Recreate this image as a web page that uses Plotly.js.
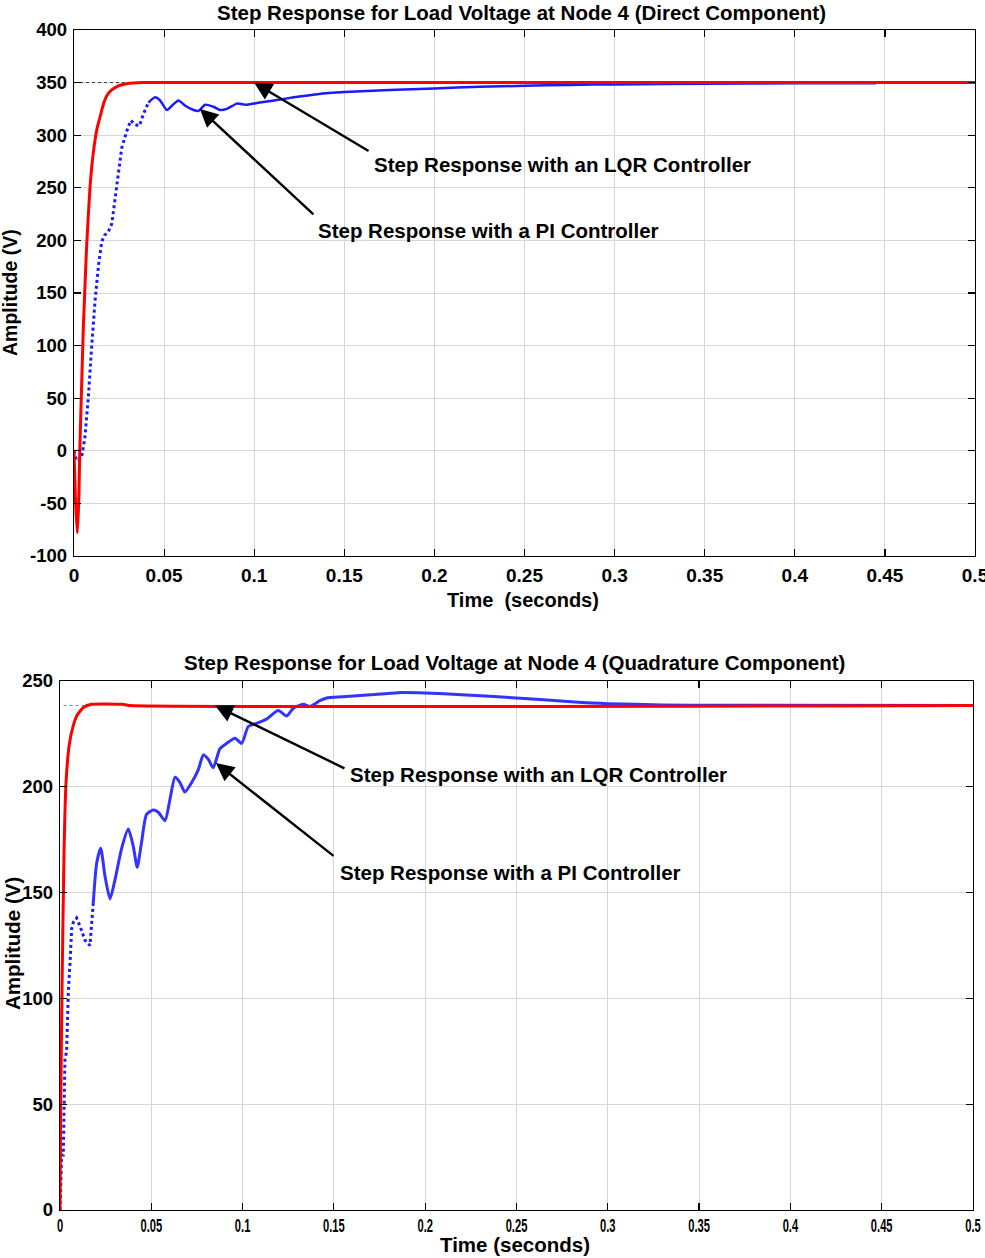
<!DOCTYPE html>
<html>
<head>
<meta charset="utf-8">
<script src="https://cdn.plot.ly/plotly-3.0.1.min.js"></script>
<style>
  html, body { margin: 0; padding: 0; background: #fff; }
  #chart { width: 985px; height: 1258px; }
</style>
</head>
<body>
<div id="chart"></div>
<script>
// ---- Direct component: PI controller response (time s, voltage V)
const tDirPI = [0, 0.0012, 0.0024, 0.0043, 0.006, 0.008, 0.0098, 0.0117, 0.0135, 0.0154, 0.017, 0.019, 0.021,
  0.0228, 0.0246, 0.0265, 0.0293, 0.0315, 0.034, 0.0363, 0.0385, 0.0413, 0.045, 0.0478, 0.0515, 0.0543,
  0.058, 0.0617, 0.0663, 0.069, 0.0728, 0.0774, 0.0811, 0.0848, 0.0904, 0.096, 0.103, 0.111, 0.122,
  0.135, 0.15, 0.175, 0.2, 0.225, 0.25, 0.275, 0.3, 0.35, 0.4, 0.445];
const vDirPI = [0, -8, -10, -5, 12, 52, 99, 143, 175, 199, 205, 208, 216,
  238, 263, 288, 304, 314, 310, 309, 320, 331, 336, 333, 324, 328,
  333, 328, 324, 323, 329, 327, 324, 325, 330, 329, 331, 333, 336,
  339, 341, 343, 344.5, 346, 347, 347.8, 348.3, 349, 349.3, 349.5];

// ---- Direct component: LQR controller response
const tDirLQR = [0, 0.0009, 0.00185, 0.0027, 0.0032, 0.0042, 0.0052, 0.007, 0.0089, 0.0107, 0.0126,
  0.0144, 0.0163, 0.0182, 0.0209, 0.0246, 0.0293, 0.0385, 0.5];
const vDirLQR = [0, -50, -78, -45, 0, 60, 118, 194, 251, 283, 305,
  317, 329.5, 337.5, 343, 347, 349, 350, 350];
const dirSteady = 350;

// ---- Quadrature component: PI controller response
const tQuadPI = [0, 0.0005, 0.0009, 0.0018, 0.0027, 0.0036, 0.0046, 0.0055, 0.0064, 0.0073, 0.0091, 0.011,
  0.0137, 0.0164, 0.0182, 0.0201, 0.0223, 0.0246, 0.0274, 0.0301, 0.0338, 0.0374, 0.0401, 0.0423,
  0.0447, 0.0474, 0.0511, 0.0538, 0.0575, 0.0602, 0.063, 0.0657, 0.0684, 0.0721, 0.0757, 0.0785,
  0.0812, 0.0839, 0.0876, 0.0912, 0.0958, 0.0995, 0.1031, 0.1077, 0.1131, 0.1195, 0.1241, 0.1277,
  0.1332, 0.1369, 0.1423, 0.146, 0.155, 0.17, 0.185, 0.2, 0.22, 0.25, 0.28, 0.3, 0.33, 0.36, 0.5];
const vQuadPI = [0, 12, 26, 26, 71, 75, 104, 117, 133, 136, 138, 134,
  127.5, 125, 145, 164, 171, 158, 147, 156, 171, 180, 172, 162,
  174, 187, 189, 188, 184, 194, 204.5, 202, 197.5, 202, 208, 215,
  213, 209, 218, 220.5, 223, 220.5, 228.5, 230, 232, 236, 233.5, 237,
  239, 238, 240.7, 242, 242.5, 243.5, 244.5, 244.3, 243.5, 242, 240.2, 239.3, 238.7, 238.5, 238.4];

// ---- Quadrature component: LQR controller response
const tQuadLQR = [0, 0.0004, 0.0011, 0.0022, 0.0033, 0.0051, 0.0073, 0.0095, 0.0128, 0.0173, 0.034, 0.038, 0.5];
const vQuadLQR = [0, 50, 104, 169, 202, 220, 229, 234, 237.5, 239, 239, 238.4, 238.4];
const quadSteady = 238.4;

// ---- Tick labels
const xTicks = [0, 0.05, 0.1, 0.15, 0.2, 0.25, 0.3, 0.35, 0.4, 0.45, 0.5];
const xTickText = ['0', '0.05', '0.1', '0.15', '0.2', '0.25', '0.3', '0.35', '0.4', '0.45', '0.5'];
const yDirTicks = [-100, -50, 0, 50, 100, 150, 200, 250, 300, 350, 400];
const yDirTickText = ['-100', '-50', '0', '50', '100', '150', '200', '250', '300', '350', '400'];
const yQuadTicks = [0, 50, 100, 150, 200, 250];
const yQuadTickText = ['0', '50', '100', '150', '200', '250'];

const titleDir = 'Step Response for Load Voltage at Node 4 (Direct Component)';
const titleQuad = 'Step Response for Load Voltage at Node 4 (Quadrature Component)';
const labelLQR = 'Step Response with an LQR Controller';
const labelPI = 'Step Response with a PI Controller';

const FONT = 'Liberation Sans, Arial, sans-serif';
const W = 985, H = 1258;

// split a series into a dotted rising part and a continuous settling part
function splitAt(t, v, ts) {
  let k = t.findIndex(x => x >= ts);
  if (k < 0) k = t.length - 1;
  return {
    a: { x: t.slice(0, k + 1), y: v.slice(0, k + 1) },
    b: { x: t.slice(k), y: v.slice(k) }
  };
}

const dirPI = splitAt(tDirPI, vDirPI, 0.04);
const quadPI = splitAt(tQuadPI, vQuadPI, 0.017);

const BLUE = '#1a1aff';
const RED = '#ff0000';

const traces = [
  // steady-state reference marks
  { x: [0, 0.028], y: [dirSteady, dirSteady], xaxis: 'x', yaxis: 'y', mode: 'lines',
    line: { color: '#333', width: 1, dash: 'dot' }, hoverinfo: 'skip' },
  { x: [0.002, 0.014], y: [quadSteady, quadSteady], xaxis: 'x2', yaxis: 'y2', mode: 'lines',
    line: { color: '#888', width: 1, dash: 'dot' }, hoverinfo: 'skip' },
  // PI responses
  { x: dirPI.a.x, y: dirPI.a.y, xaxis: 'x', yaxis: 'y', mode: 'lines', name: 'PI',
    line: { color: BLUE, width: 3, dash: 'dot' } },
  { x: dirPI.b.x, y: dirPI.b.y, xaxis: 'x', yaxis: 'y', mode: 'lines', name: 'PI',
    line: { color: BLUE, width: 2.5, shape: 'spline', smoothing: 0.6 } },
  { x: quadPI.a.x, y: quadPI.a.y, xaxis: 'x2', yaxis: 'y2', mode: 'lines', name: 'PI',
    line: { color: BLUE, width: 3, dash: 'dot' } },
  { x: quadPI.b.x, y: quadPI.b.y, xaxis: 'x2', yaxis: 'y2', mode: 'lines', name: 'PI',
    line: { color: '#3333ff', width: 3, shape: 'spline', smoothing: 0.6 } },
  // LQR responses
  { x: tDirLQR, y: vDirLQR, xaxis: 'x', yaxis: 'y', mode: 'lines', name: 'LQR',
    line: { color: RED, width: 3, shape: 'spline', smoothing: 0.5 } },
  { x: tQuadLQR, y: vQuadLQR, xaxis: 'x2', yaxis: 'y2', mode: 'lines', name: 'LQR',
    line: { color: RED, width: 3, shape: 'spline', smoothing: 0.5 } }
];

const boldFont = (size) => ({ family: FONT, size: size, color: '#000', weight: 'bold' });

function xAxis(domain, anchor, tickFont, standoff) {
  return {
    domain: domain, anchor: anchor, range: [0, 0.5],
    tickmode: 'array', tickvals: xTicks, ticktext: xTickText,
    ticks: 'inside', ticklen: 7, tickwidth: 1.2, tickcolor: '#000',
    showline: true, linecolor: '#000', linewidth: 1.3, mirror: 'ticks',
    showgrid: true, gridcolor: '#d6d6d6', gridwidth: 1, zeroline: false,
    tickfont: tickFont, ticklabelstandoff: standoff, ticklabeloverflow: 'allow'
  };
}
function yAxis(domain, anchor, range, ticks, text) {
  return {
    domain: domain, anchor: anchor, range: range,
    tickmode: 'array', tickvals: ticks, ticktext: text,
    ticks: 'inside', ticklen: 7, tickwidth: 1.2, tickcolor: '#000',
    showline: true, linecolor: '#000', linewidth: 1.3, mirror: 'ticks',
    showgrid: true, gridcolor: '#d6d6d6', gridwidth: 1, zeroline: false,
    tickfont: boldFont(18.5), ticklabelstandoff: 2, ticklabeloverflow: 'allow'
  };
}

function arrow(xr, yr, x, y, ax, ay) {
  return { xref: xr, yref: yr, axref: xr, ayref: yr, x: x, y: y, ax: ax, ay: ay,
    text: '', showarrow: true, arrowhead: 2, arrowsize: 1.5, arrowwidth: 2.4, arrowcolor: '#000' };
}
function label(xr, yr, x, y, text) {
  return { xref: xr, yref: yr, x: x, y: y, text: '<b>' + text + '</b>', showarrow: false,
    xanchor: 'left', yanchor: 'middle', font: boldFont(20.5) };
}
function paperText(px, py, text, font, angle) {
  return { xref: 'paper', yref: 'paper', x: px / W, y: 1 - py / H, text: '<b>' + text + '</b>',
    showarrow: false, xanchor: 'center', yanchor: 'middle', font: font, textangle: angle || 0 };
}

const layout = {
  width: W, height: H,
  margin: { l: 0, r: 0, t: 0, b: 0 },
  paper_bgcolor: '#fff', plot_bgcolor: '#fff',
  showlegend: false,
  xaxis: xAxis([74 / W, 975 / W], 'y', boldFont(19), 2),
  yaxis: yAxis([1 - 556 / H, 1 - 30 / H], 'x', [-100, 400], yDirTicks, yDirTickText),
  xaxis2: xAxis([60 / W, 973 / W], 'y2', boldFont(18), -1),
  yaxis2: yAxis([1 - 1210 / H, 1 - 681 / H], 'x2', [0, 250], yQuadTicks, yQuadTickText),
  annotations: [
    paperText(521, 12, titleDir, boldFont(20.5)),
    paperText(514, 662, titleQuad, boldFont(20.5)),
    paperText(523, 600, 'Time  (seconds)', boldFont(20)),
    paperText(515, 1244, 'Time (seconds)', boldFont(20.5)),
    paperText(10, 293, 'Amplitude (V)', boldFont(19.5), -90),
    paperText(12, 944, 'Amplitude (V)', boldFont(20.5), -90),

    arrow('x', 'y', 0.0999, 350, 0.1643, 284.2),
    arrow('x', 'y', 0.0699, 325, 0.1337, 223.4),
    label('x', 'y', 0.1654, 271.9, labelLQR),
    label('x', 'y', 0.1343, 209.1, labelPI),

    arrow('x2', 'y2', 0.0849, 238.4, 0.1566, 208.4),
    arrow('x2', 'y2', 0.0854, 211.2, 0.1506, 166.8),
    label('x2', 'y2', 0.1577, 206, labelLQR),
    label('x2', 'y2', 0.1522, 159.7, labelPI)
  ]
};

// the lower time axis uses tall, condensed numerals: squeeze each label about its centre
function condenseLabels(gd, selector, sx) {
  gd.querySelectorAll(selector).forEach(el => {
    const b = el.getBBox();
    const cx = b.x + b.width / 2, cy = b.y + b.height / 2;
    const base = el.getAttribute('transform') || '';
    el.setAttribute('transform',
      base + ' translate(' + cx + ',' + cy + ') scale(' + sx + ',1) translate(' + (-cx) + ',' + (-cy) + ')');
  });
}

Plotly.newPlot('chart', traces, layout, { staticPlot: true, displayModeBar: false })
  .then(gd => condenseLabels(gd, '.xaxislayer-above .x2tick text', 0.62));
</script>
</body>
</html>
